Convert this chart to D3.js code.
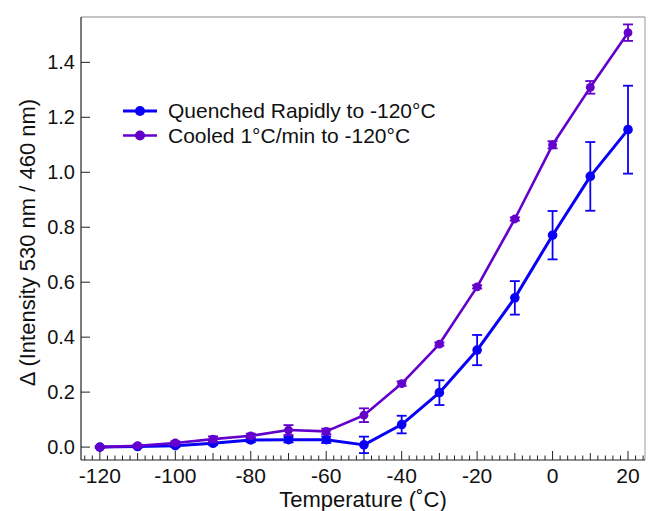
<!DOCTYPE html>
<html>
<head>
<meta charset="utf-8">
<script src="https://cdn.jsdelivr.net/npm/d3@7"></script>
<style>
  body { margin: 0; background: #fff; }
  svg { display: block; font-family: "Liberation Sans", Arial, Helvetica, sans-serif; }
</style>
</head>
<body>
<div id="chart"></div>
<script>
// temperatures (°C)
const temps = [-120, -110, -100, -90, -80, -70, -60, -50, -40, -30, -20, -10, 0, 10, 20];

// quenched rapidly to -120°C
const quenched    = [0.000, 0.002, 0.005, 0.014, 0.026, 0.027, 0.027, 0.008, 0.082, 0.198, 0.353, 0.543, 0.771, 0.985, 1.155];
const quenchedErr = [0.003, 0.004, 0.005, 0.006, 0.008, 0.010, 0.012, 0.030, 0.032, 0.045, 0.055, 0.061, 0.088, 0.125, 0.160];

// cooled 1°C/min to -120°C
const cooled    = [0.000, 0.005, 0.015, 0.029, 0.041, 0.062, 0.057, 0.116, 0.231, 0.375, 0.583, 0.830, 1.100, 1.309, 1.508];
const cooledErr = [0.002, 0.004, 0.006, 0.010, 0.008, 0.018, 0.010, 0.025, 0.008, 0.006, 0.006, 0.006, 0.013, 0.023, 0.030];

const yTicks = [0, 0.2, 0.4, 0.6, 0.8, 1.0, 1.2, 1.4];
const xTicks = [-120, -100, -80, -60, -40, -20, 0, 20];

const series = [
  { name: "Quenched Rapidly to -120°C", values: quenched, errs: quenchedErr, color: "#0a00f5", width: 3, r: 4.8 },
  { name: "Cooled 1°C/min to -120°C",   values: cooled,   errs: cooledErr,   color: "#6400cc", width: 2.6, r: 4.4 }
];

const W = 648, H = 511;
const m = { left: 81, right: 3, top: 17, bottom: 51 };

const x = d3.scaleLinear().domain([-125, 24.5]).range([m.left, W - m.right]);
const y = d3.scaleLinear().domain([-0.047, 1.565]).range([H - m.bottom, m.top]);

const svg = d3.select("#chart").append("svg")
  .attr("width", W)
  .attr("height", H);

// frame: top & right are grey
svg.append("line")
  .attr("x1", m.left).attr("x2", W - m.right)
  .attr("y1", m.top).attr("y2", m.top)
  .attr("stroke", "#888").attr("stroke-width", 1.2);
svg.append("line")
  .attr("x1", W - m.right).attr("x2", W - m.right)
  .attr("y1", m.top).attr("y2", H - m.bottom)
  .attr("stroke", "#999").attr("stroke-width", 1);

// x axis, ticks pointing in
const minorX = d3.range(-124, 25, 2);
const xAxis = svg.append("g").attr("transform", `translate(0,${H - m.bottom})`);
xAxis.append("line")
  .attr("x1", m.left).attr("x2", W - m.right)
  .attr("stroke", "#222").attr("stroke-width", 1.2);
xAxis.selectAll(".tick")
  .data(minorX)
  .enter().append("line")
  .attr("x1", d => x(d)).attr("x2", d => x(d))
  .attr("y1", 0)
  .attr("y2", d => d % 20 === 0 ? -9 : (d % 10 === 0 ? -7 : -4.5))
  .attr("stroke", "#222").attr("stroke-width", 1);
xAxis.selectAll(".lbl")
  .data(xTicks)
  .enter().append("text")
  .attr("x", d => x(d))
  .attr("y", 23)
  .attr("text-anchor", "middle")
  .attr("font-size", 21)
  .attr("fill", "#111")
  .text(d => d);

// y axis
const yAxis = svg.append("g").attr("transform", `translate(${m.left},0)`);
yAxis.append("line")
  .attr("y1", m.top).attr("y2", H - m.bottom)
  .attr("stroke", "#222").attr("stroke-width", 1.2);
yAxis.selectAll(".tick")
  .data(yTicks)
  .enter().append("line")
  .attr("x1", 0).attr("x2", 9)
  .attr("y1", d => y(d)).attr("y2", d => y(d))
  .attr("stroke", "#222").attr("stroke-width", 1);
yAxis.selectAll(".lbl")
  .data(yTicks)
  .enter().append("text")
  .attr("x", -6)
  .attr("y", d => y(d))
  .attr("dy", "0.35em")
  .attr("text-anchor", "end")
  .attr("font-size", 20)
  .attr("fill", "#111")
  .text(d => d.toFixed(1));

// axis titles
svg.append("text")
  .attr("x", (m.left + W - m.right) / 2)
  .attr("y", 507)
  .attr("text-anchor", "middle")
  .attr("font-size", 22)
  .attr("fill", "#111")
  .text("Temperature (˚C)");

svg.append("text")
  .attr("transform", `translate(35,${(m.top + H - m.bottom) / 2 + 4}) rotate(-90)`)
  .attr("text-anchor", "middle")
  .attr("font-size", 22)
  .attr("fill", "#111")
  .text("Δ (Intensity 530 nm / 460 nm)");

// series
const line = d3.line().x(d => x(d.t)).y(d => y(d.v));

series.forEach(s => {
  const pts = temps.map((t, i) => ({ t: t, v: s.values[i], e: s.errs[i] }));
  const g = svg.append("g");

  g.append("path")
    .datum(pts)
    .attr("fill", "none")
    .attr("stroke", s.color)
    .attr("stroke-width", s.width)
    .attr("stroke-linejoin", "round")
    .attr("d", line);

  const eb = g.selectAll(".err").data(pts).enter().append("g");
  eb.append("line")
    .attr("x1", d => x(d.t)).attr("x2", d => x(d.t))
    .attr("y1", d => y(d.v - d.e)).attr("y2", d => y(d.v + d.e))
    .attr("stroke", s.color).attr("stroke-width", 1.8);
  eb.append("line")
    .attr("x1", d => x(d.t) - 5).attr("x2", d => x(d.t) + 5)
    .attr("y1", d => y(d.v + d.e)).attr("y2", d => y(d.v + d.e))
    .attr("stroke", s.color).attr("stroke-width", 1.8);
  eb.append("line")
    .attr("x1", d => x(d.t) - 5).attr("x2", d => x(d.t) + 5)
    .attr("y1", d => y(d.v - d.e)).attr("y2", d => y(d.v - d.e))
    .attr("stroke", s.color).attr("stroke-width", 1.8);

  g.selectAll("circle").data(pts).enter().append("circle")
    .attr("cx", d => x(d.t))
    .attr("cy", d => y(d.v))
    .attr("r", s.r)
    .attr("fill", s.color);
});

// legend
const legend = svg.append("g");
series.forEach((s, i) => {
  const ly = 111 + i * 24.5;
  legend.append("line")
    .attr("x1", 123).attr("x2", 157)
    .attr("y1", ly).attr("y2", ly)
    .attr("stroke", s.color).attr("stroke-width", s.width);
  legend.append("circle")
    .attr("cx", 140).attr("cy", ly)
    .attr("r", 5)
    .attr("fill", s.color);
  legend.append("text")
    .attr("x", 168)
    .attr("y", ly + 7)
    .attr("font-size", 21)
    .attr("fill", "#111")
    .text(s.name);
});
</script>
</body>
</html>
